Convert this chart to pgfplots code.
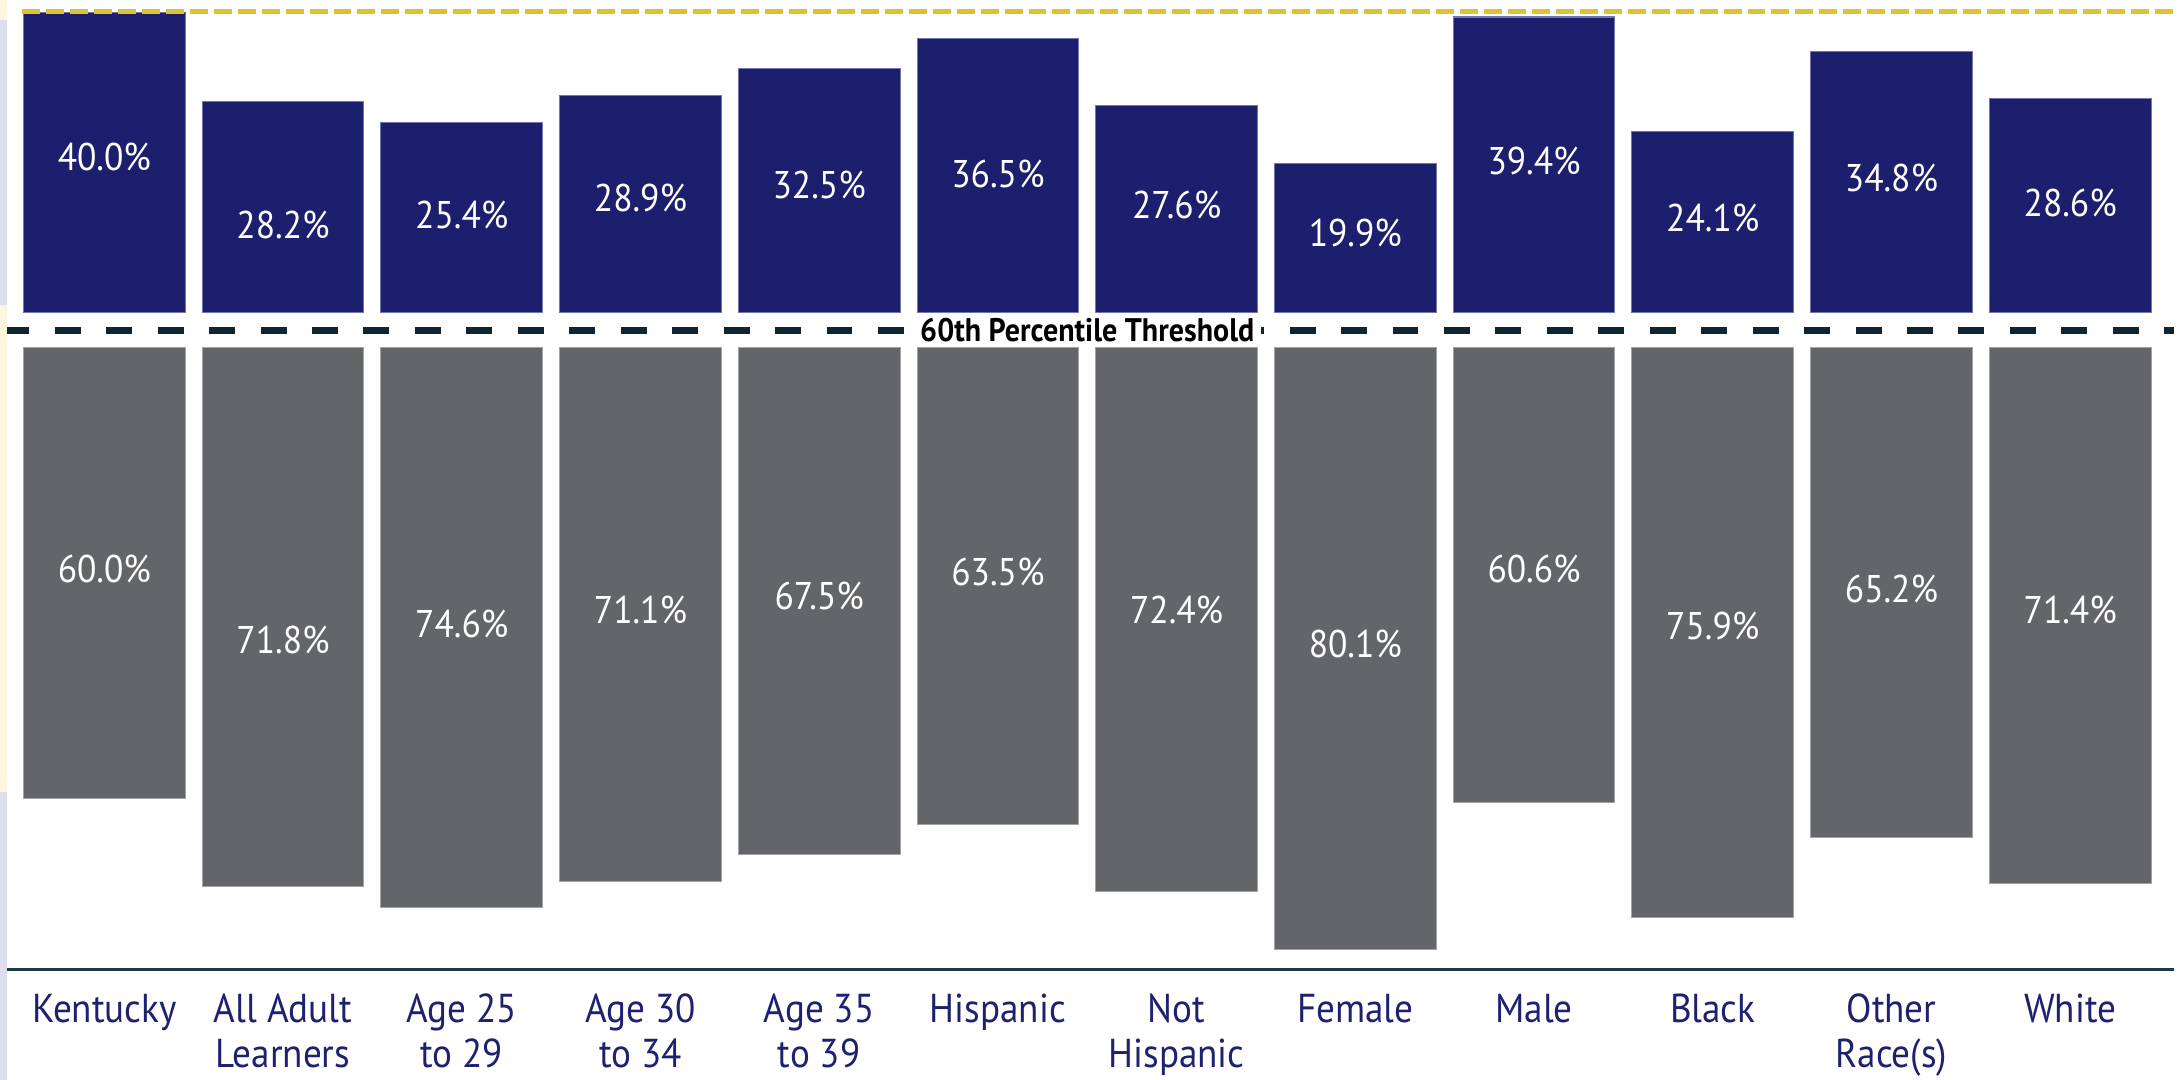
\documentclass[border=0pt]{standalone}
\usepackage{pgfplots}
\pgfplotsset{compat=1.18}
\usepackage{pgfplotstable}
\usepackage{fontspec}
\setmainfont{PT Sans}[FakeStretch=0.92]

\definecolor{navy}{HTML}{1C1F6D}
\definecolor{navyedge}{HTML}{7276AC}
\definecolor{bargray}{HTML}{646569}
\definecolor{grayedge}{HTML}{A2A3A6}
\definecolor{gold}{HTML}{DEC232}
\definecolor{darkdash}{HTML}{0D2631}
\definecolor{axisline}{HTML}{1F3A45}
\definecolor{labnavy}{HTML}{1E2170}
\definecolor{lav}{HTML}{DDDFEF}
\definecolor{cream}{HTML}{FFF4DE}

% x: category, blue: share above, bl: label height, gray: share below, gl: label depth
\pgfplotstableread{
x blue bl gray gl
0 40.0 20.74 60.0 29.39
1 28.2 11.70 71.8 38.96
2 25.4 13.03 74.6 36.84
3 28.9 15.29 71.1 34.97
4 32.5 17.02 67.5 33.11
5 36.5 18.55 63.5 29.79
6 27.6 14.36 72.4 34.97
7 19.9 10.64 80.1 39.49
8 39.4 20.21 60.6 29.39
9 24.1 12.63 75.9 37.10
10 34.8 18.02 65.2 32.18
11 28.6 14.69 71.4 34.97
}\rates

\pgfplotsset{
  base/.style={scale only axis, width=21.77cm, height=10.81cm,
    at={(0,0)}, anchor=south west,
    xmin=-0.5838, xmax=11.578,
    axis line style={draw=none}, ytick=\empty, major tick length=0pt,
    clip=false, /pgf/number format/assume math mode=true},
  pct/.style={only marks, mark=none,
    nodes near coords={\pgfmathprintnumber[fixed,fixed zerofill,precision=1]{\pgfplotspointmeta}\%},
    every node near coord/.append style={anchor=center, text=white, inner sep=0pt,
      font=\fontsize{11}{13}\selectfont}},
}

\begin{document}
\begin{tikzpicture}
\begin{axis}[base, ymin=-102.13, ymax=41.62,
    xtick={0,...,11},
    xticklabels={Kentucky, {All Adult\\Learners}, {Age 25\\to 29}, {Age 30\\to 34},
      {Age 35\\to 39}, Hispanic, {Not\\Hispanic}, Female, Male, Black,
      {Other\\Race(s)}, White},
    xticklabel style={anchor=north, inner sep=0pt, yshift=24.6pt, align=center,
      text=labnavy, font=\fontsize{11.5}{12.8}\selectfont}]
  \fill[lav] (rel axis cs:0,0) rectangle (rel axis cs:0.0032,0.2664);
  \fill[cream] (rel axis cs:0,0.2664) rectangle (rel axis cs:0.0032,0.7178);
  \fill[lav] (rel axis cs:0,0.7178) rectangle (rel axis cs:0.0032,0.9815);
  \fill[cream] (rel axis cs:0,0.9815) rectangle (rel axis cs:0.0032,1);
  \addplot[ybar, bar shift=0pt, bar width=0.905, fill=navy, draw=navyedge, line width=0.3pt]
    table[x=x, y=blue] {\rates};
  \addplot[pct, point meta=\thisrow{blue}] table[x=x, y=bl] {\rates};
  \draw[gold, line width=1.5pt, dash pattern=on 5.12pt off 1.71pt]
    (axis cs:-0.461,40.16) -- (axis cs:11.578,40.16);
  \draw[darkdash, line width=2pt, dash pattern=on 7.397pt off 7.266pt, dash phase=1.05pt]
    (axis cs:-0.5447,-2.35) -- (axis cs:11.578,-2.35);
  \node[fill=white, inner xsep=2pt, inner ysep=1pt, font=\bfseries\fontsize{9.3}{10}\selectfont]
    at (axis cs:5.5,-2.35) {60th Percentile Threshold};
  \draw[axisline, line width=0.9pt] (axis cs:-0.5447,-87.46) -- (axis cs:11.578,-87.46);
\end{axis}
\begin{axis}[base, y dir=reverse, ymin=-46.28, ymax=97.47, xtick=\empty]
  \addplot[ybar, bar shift=0pt, bar width=0.905, fill=bargray, draw=grayedge, line width=0.3pt]
    table[x=x, y=gray] {\rates};
  \addplot[pct, point meta=\thisrow{gray}] table[x=x, y=gl] {\rates};
\end{axis}
\end{tikzpicture}
\end{document}
